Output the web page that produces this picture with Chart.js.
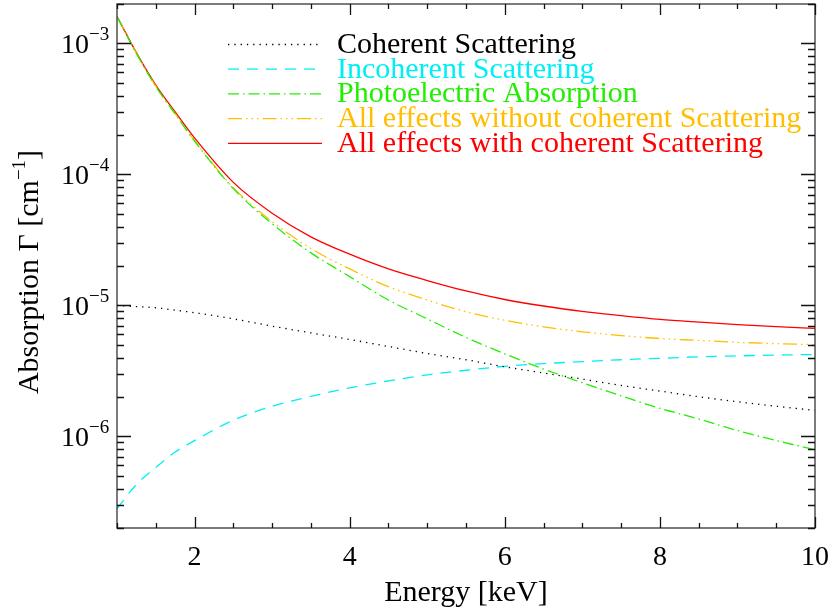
<!DOCTYPE html>
<html>
<head>
<meta charset="utf-8">
<script src="https://cdn.jsdelivr.net/npm/chart.js@4/dist/chart.umd.min.js"></script>
<style>
  html, body { margin: 0; padding: 0; background: #fff; }
  #wrap { width: 833px; height: 612px; }
</style>
</head>
<body>
<div id="wrap"><canvas id="c" width="833" height="612"></canvas></div>
<script>
// Photon energy grid [keV]
const energy = [1, 1.25, 1.5, 1.75, 2, 2.5, 3, 3.5, 4, 4.5, 5, 5.5, 6, 6.5, 7, 7.5, 8, 8.5, 9, 9.5, 10];

// Absorption coefficients [cm^-1]
const coherent   = [1.0e-5, 9.8e-6, 9.6e-6, 9.2e-6, 8.8e-6, 7.9e-6, 6.95e-6, 6.17e-6, 5.5e-6, 4.86e-6, 4.3e-6, 3.85e-6, 3.4e-6, 3.05e-6, 2.74e-6, 2.45e-6, 2.22e-6, 2.01e-6, 1.84e-6, 1.7e-6, 1.58e-6];
const incoherent = [2.8e-7, 4.3e-7, 5.8e-7, 7.6e-7, 9.3e-7, 1.33e-6, 1.7e-6, 2.02e-6, 2.35e-6, 2.65e-6, 2.95e-6, 3.2e-6, 3.43e-6, 3.6e-6, 3.72e-6, 3.85e-6, 3.95e-6, 4.05e-6, 4.12e-6, 4.18e-6, 4.22e-6];
const photo      = [1.6e-3, 8.4e-4, 4.7e-4, 2.9e-4, 1.8e-4, 7.8e-5, 4.2e-5, 2.52e-5, 1.66e-5, 1.1e-5, 7.9e-6, 5.7e-6, 4.27e-6, 3.27e-6, 2.57e-6, 2.04e-6, 1.64e-6, 1.36e-6, 1.11e-6, 9.3e-7, 7.9e-7];
const withoutCoh = [1.6e-3, 8.4e-4, 4.71e-4, 2.91e-4, 1.81e-4, 7.93e-5, 4.37e-5, 2.72e-5, 1.9e-5, 1.39e-5, 1.1e-5, 8.95e-6, 7.7e-6, 6.87e-6, 6.29e-6, 5.89e-6, 5.59e-6, 5.41e-6, 5.23e-6, 5.11e-6, 5.02e-6];
const withCoh    = [1.61e-3, 8.5e-4, 4.81e-4, 3.0e-4, 1.9e-4, 8.7e-5, 5.06e-5, 3.34e-5, 2.46e-5, 1.9e-5, 1.55e-5, 1.29e-5, 1.11e-5, 9.9e-6, 9.0e-6, 8.37e-6, 7.84e-6, 7.46e-6, 7.13e-6, 6.88e-6, 6.68e-6];

// Axis ticks
const xMajorTicks = [2, 4, 6, 8, 10];
const xMinorStep = 0.5;
const yDecades = [-6, -5, -4, -3];

const seriesNames = [
  'Coherent Scattering',
  'Incoherent Scattering',
  'Photoelectric Absorption',
  'All effects without coherent Scattering',
  'All effects with coherent Scattering'
];

const SERIF = '"Liberation Serif", "DejaVu Serif", serif';

function pts(ys) { return energy.map((e, i) => ({ x: e, y: ys[i] })); }

const styles = [
  { color: '#000000', dash: [1.3, 5] },
  { color: '#00EEF5', dash: [11, 8] },
  { color: '#22EE00', dash: [11, 4, 1.5, 4] },
  { color: '#FFBF00', dash: [14, 4, 1.5, 4, 1.5, 4, 1.5, 4] },
  { color: '#FF0000', dash: [] }
];
const seriesData = [coherent, incoherent, photo, withoutCoh, withCoh];

const datasets = seriesData.map((ys, i) => ({
  label: seriesNames[i],
  data: pts(ys),
  borderColor: styles[i].color,
  borderDash: styles[i].dash,
  borderWidth: 1.3,
  pointRadius: 0,
  fill: false,
  cubicInterpolationMode: 'monotone'
}));

// Frame, inward ticks, tick labels, axis titles and legend
const decorations = {
  id: 'decorations',
  afterDraw(chart) {
    const ctx = chart.ctx;
    const a = chart.chartArea;
    const xs = chart.scales.x, ys = chart.scales.y;
    ctx.save();

    // frame
    ctx.strokeStyle = '#444';
    ctx.lineWidth = 1.4;
    ctx.setLineDash([]);
    ctx.strokeRect(a.left, a.top, a.right - a.left, a.bottom - a.top);

    ctx.strokeStyle = '#111';
    ctx.lineWidth = 1.3;
    ctx.beginPath();
    // x ticks (bottom and top)
    for (let v = xs.min; v <= xs.max + 1e-9; v += xMinorStep) {
      const px = Math.round(xs.getPixelForValue(v)) + 0.5;
      const major = xMajorTicks.some(t => Math.abs(t - v) < 1e-9);
      const len = major ? 11 : 5;
      ctx.moveTo(px, a.bottom); ctx.lineTo(px, a.bottom - len);
      ctx.moveTo(px, a.top); ctx.lineTo(px, a.top + len);
    }
    // y ticks (left and right)
    const lo = Math.floor(Math.log10(ys.min)), hi = Math.ceil(Math.log10(ys.max));
    for (let d = lo; d <= hi; d++) {
      for (let m = 1; m <= 9; m++) {
        const v = m * Math.pow(10, d);
        if (v < ys.min || v > ys.max) continue;
        const py = Math.round(ys.getPixelForValue(v)) + 0.5;
        const len = m === 1 ? 14 : 7;
        ctx.moveTo(a.left, py); ctx.lineTo(a.left + len, py);
        ctx.moveTo(a.right, py); ctx.lineTo(a.right - len, py);
      }
    }
    ctx.stroke();

    ctx.fillStyle = '#000';
    // x tick labels
    ctx.font = '28px ' + SERIF;
    ctx.textAlign = 'center';
    ctx.textBaseline = 'alphabetic';
    xMajorTicks.forEach(t => {
      ctx.fillText(String(t), xs.getPixelForValue(t), 565);
    });

    // y tick labels: 10 with exponent
    yDecades.forEach(d => {
      const py = ys.getPixelForValue(Math.pow(10, d));
      ctx.font = '28px ' + SERIF;
      ctx.textAlign = 'right';
      ctx.fillText('10', 89, py + 10);
      ctx.font = '19px ' + SERIF;
      ctx.textAlign = 'left';
      ctx.fillText('\u2212' + Math.abs(d), 89, py - 3);
    });

    // x title
    ctx.font = '30px ' + SERIF;
    ctx.textAlign = 'center';
    ctx.fillText('Energy [keV]', (a.left + a.right) / 2, 601);

    // y title (rotated)
    ctx.save();
    ctx.translate(38, (a.top + a.bottom) / 2 + 6);
    ctx.rotate(-Math.PI / 2);
    const main = 'Absorption \u0393 [cm';
    const sup = '\u22121';
    const tail = ']';
    ctx.font = '30px ' + SERIF;
    const wMain = ctx.measureText(main).width;
    const wTail = ctx.measureText(tail).width;
    ctx.font = '19px ' + SERIF;
    const wSup = ctx.measureText(sup).width;
    const total = wMain + wSup + wTail;
    let x0 = -total / 2;
    ctx.textAlign = 'left';
    ctx.font = '30px ' + SERIF;
    ctx.fillText(main, x0, 0);
    ctx.font = '19px ' + SERIF;
    ctx.fillText(sup, x0 + wMain, -13);
    ctx.font = '30px ' + SERIF;
    ctx.fillText(tail, x0 + wMain + wSup, 0);
    ctx.restore();

    // legend
    const rowY = [44, 68.7, 93.4, 118.1, 142.8];
    chart.data.datasets.forEach((ds, i) => {
      const y = rowY[i];
      ctx.strokeStyle = ds.borderColor;
      ctx.lineWidth = 1.3;
      ctx.setLineDash(ds.borderDash || []);
      ctx.beginPath();
      ctx.moveTo(228, y + 0.5);
      ctx.lineTo(322, y + 0.5);
      ctx.stroke();
      ctx.setLineDash([]);
      ctx.fillStyle = ds.borderColor;
      ctx.font = '30px ' + SERIF;
      ctx.textAlign = 'left';
      ctx.textBaseline = 'middle';
      ctx.fillText(ds.label, 337, y + 1);
    });

    ctx.restore();
  }
};

new Chart(document.getElementById('c'), {
  type: 'line',
  data: { datasets },
  options: {
    responsive: false,
    animation: false,
    events: [],
    layout: { padding: { left: 117, top: 4, right: 18, bottom: 84 } },
    plugins: { legend: { display: false }, tooltip: { enabled: false } },
    scales: {
      x: { type: 'linear', min: 1, max: 10, display: false },
      y: { type: 'logarithmic', min: 2e-7, max: 2e-3, display: false }
    }
  },
  plugins: [decorations]
});
</script>
</body>
</html>
